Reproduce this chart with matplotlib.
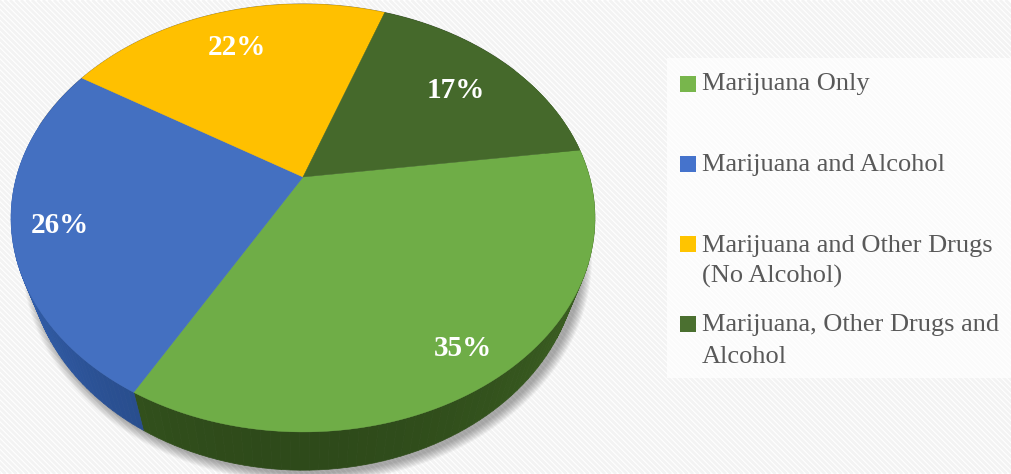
import numpy as np
from matplotlib import pyplot as plt
from matplotlib.patches import Ellipse, Polygon, Rectangle
from matplotlib.collections import LineCollection

labels = ['Marijuana Only', 'Marijuana and Alcohol',
          'Marijuana and Other Drugs\n(No Alcohol)', 'Marijuana, Other Drugs and\nAlcohol']
values = [35.33, 25.67, 21.6, 17.4]
colors = ['#6fad47', '#4470c1', '#ffc000', '#45692b']
legend_colors = ['#78b64c', '#4573cc', '#ffc400', '#4b7030']
side_dark = ['#2e4a1a', '#264883', '#b38600', '#2e4a1c']

label_pos = [(463, 348), (60, 225), (237, 47), (456, 90)]
legend_box_y = [76, 156, 236, 316]
legend_base_y = [[90], [171], [252, 283], [331, 363]]

START = 7.7
K = 0.192


def rim(theta, cx, cy, a, b):
    # circle seen in perspective, so the pie centre is not the ellipse centre
    t = np.radians(theta)
    d = 1 + K * np.sin(t)
    return cx + a * np.cos(t) / d, cy - b * np.sin(t) / d


def top_rim(theta):
    return rim(theta, 303, 177, 286.5, 206)


def bottom_rim(theta):
    return rim(theta, 303, 214, 270, 207)


def shade(color, f):
    c = np.array(plt.matplotlib.colors.to_rgb(color))
    return tuple(np.clip(c * f, 0, 1))


fig = plt.figure(figsize=(10.11, 4.74), dpi=100)
ax = fig.add_axes([0, 0, 1, 1])
ax.set_xlim(0, 1011)
ax.set_ylim(474, 0)
ax.axis('off')

# faint diagonal stripes behind everything
stripes = [[(s, 0), (s + 474, 474)] for s in np.arange(-474, 1011, 5.5)]
ax.add_collection(LineCollection(stripes, colors='#f3f3f3', linewidths=2, zorder=0))
ax.add_patch(Rectangle((667, 58), 344, 320, fc='white', alpha=0.7, ec='none', zorder=1))

# soft shadow of the pie
for i in range(10):
    grow = 20 - 2 * i
    ax.add_patch(Ellipse((307, 258), 2 * 275 + grow, 2 * 215 + grow, fc='black',
                         alpha=0.035, ec='none', zorder=2))
# thin grey edge only along the far side
arc_x, arc_y = top_rim(np.linspace(35, 165, 100))
ax.plot(arc_x, arc_y, color='#8a8a8a', lw=1, zorder=2)

# slices: sides first, then the top faces
angle = START
for value, color, dark in zip(values, colors, side_dark):
    sweep = value / sum(values) * 360
    steps = np.linspace(angle, angle - sweep, 80)
    for t0, t1 in zip(steps[:-1], steps[1:]):
        x0, y0 = top_rim(t0)
        x1, y1 = top_rim(t1)
        x2, y2 = bottom_rim(t1)
        x3, y3 = bottom_rim(t0)
        # darkest near the middle of the front, lighter towards the far ends
        f = 1 + 0.35 * abs(np.sin(np.radians(t0 + 90))) ** 2
        ax.add_patch(Polygon([(x0, y0), (x1, y1), (x2, y2), (x3, y3)], fc=shade(dark, f),
                             ec=shade(dark, f), lw=0.5, zorder=3))
    xs, ys = top_rim(steps)
    pts = [(303, 177)] + list(zip(xs, ys))
    ax.add_patch(Polygon(pts, fc=color, ec=color, lw=0.3, zorder=4))
    angle -= sweep

for value, pos in zip(values, label_pos):
    ax.text(pos[0], pos[1], '%.0f%%' % value, color='white', fontsize=21, fontweight='bold',
            family='Liberation Serif', ha='center', va='center', zorder=6)

# legend
for name, c, by, bases in zip(labels, legend_colors, legend_box_y, legend_base_y):
    ax.add_patch(Rectangle((680, by), 16, 16, fc=c, ec='none', zorder=5))
    for line, base in zip(name.split('\n'), bases):
        ax.text(702, base, line, color='#595959', fontsize=19, family='Liberation Serif',
                ha='left', va='baseline', zorder=6)

fig.savefig('out.png', dpi=100)
